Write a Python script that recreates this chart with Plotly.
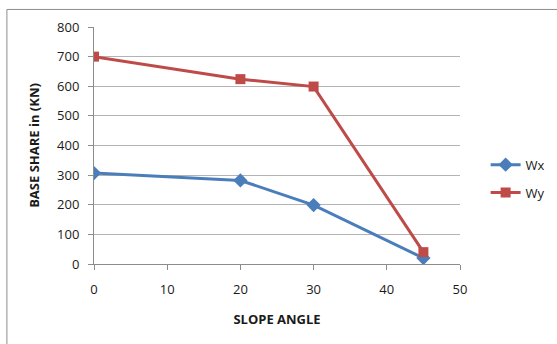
import plotly.graph_objects as go

# Slope angle (degrees) and base shear (kN) for both directions
slope_angle = [0, 20, 30, 45]
wx = [307, 282, 199, 20]
wy = [700, 624, 599, 40]

x_ticks = [0, 10, 20, 30, 40, 50]
y_ticks = [0, 100, 200, 300, 400, 500, 600, 700, 800]

FONT = "Open Sans"
BLUE = "#4a7ebb"
RED = "#be4b48"
GRID = "#b3b3b3"
AXIS = "#8c8c8c"

fig = go.Figure()
fig.add_trace(go.Scatter(
    x=slope_angle, y=wx, name="Wx", mode="lines+markers", legendgroup="wx",
    line=dict(color=BLUE, width=3),
    marker=dict(symbol="diamond", size=11, color=BLUE),
))
fig.add_trace(go.Scatter(
    x=slope_angle, y=wy, name="Wy", mode="lines+markers", legendgroup="wy",
    line=dict(color=RED, width=3),
    marker=dict(symbol="square", size=10, color=RED),
))

fig.update_layout(
    width=557, height=344,
    margin=dict(l=94, r=97, t=27, b=80, autoexpand=False),
    paper_bgcolor="white", plot_bgcolor="white",
    font=dict(family=FONT, size=13, color="#1a1a1a"),
    xaxis=dict(
        range=[0, 50], tickvals=x_ticks, showgrid=False, zeroline=False,
        showline=True, linecolor=AXIS, linewidth=1,
        ticks="outside", ticklen=5, tickcolor=AXIS,
        ticklabelstandoff=8,
        title=dict(text="<b>SLOPE ANGLE</b>", font=dict(size=13), standoff=18),
    ),
    yaxis=dict(
        range=[0, 800], tickvals=y_ticks, showgrid=True, gridcolor=GRID,
        gridwidth=1, zeroline=False,
        showline=True, linecolor=AXIS, linewidth=1,
        ticks="outside", ticklen=5, tickcolor=AXIS,
        ticklabelstandoff=6,
        title=dict(text="<b>BASE SHARE in (KN)</b>", font=dict(size=13), standoff=14),
    ),
    legend=dict(x=1.07, y=0.36, xanchor="left", yanchor="middle",
                font=dict(size=13), bgcolor="rgba(0,0,0,0)",
                tracegroupgap=8, itemwidth=30),
    shapes=[dict(type="rect", xref="paper", yref="paper",
                 x0=-0.238, x1=2, y0=-2, y1=1.074,
                 line=dict(color=AXIS, width=1), layer="below")],
)

fig.write_html("out.html")
